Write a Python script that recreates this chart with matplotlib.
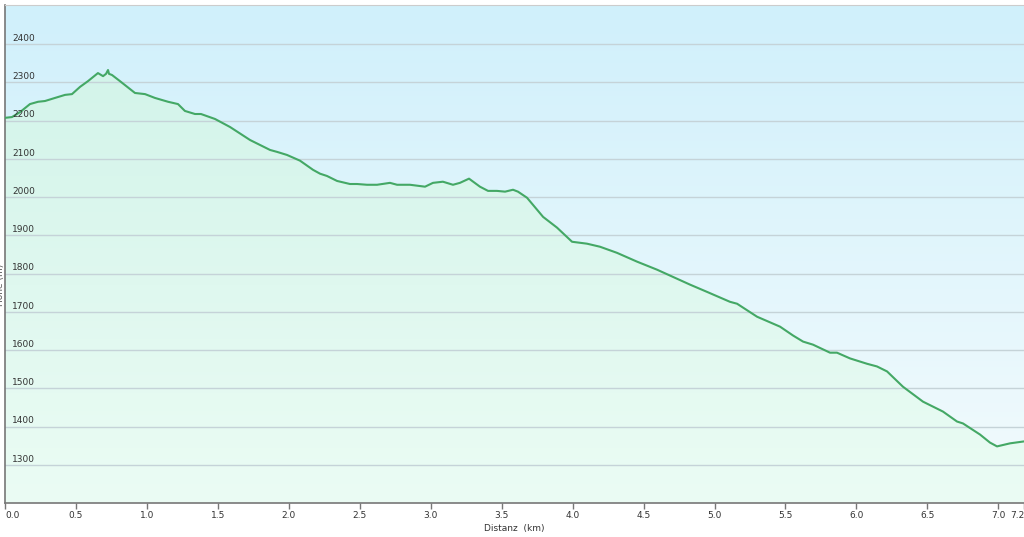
import numpy as np
import matplotlib.pyplot as plt
from matplotlib.colors import LinearSegmentedColormap
from matplotlib.patches import Polygon
import matplotlib.transforms as mtransforms

# profile
dist_km = [0.00, 0.049, 0.106, 0.176, 0.233, 0.282, 0.352, 0.423, 0.472, 0.529,
           0.585, 0.655, 0.691, 0.712, 0.726, 0.733, 0.754, 0.810, 0.916, 0.987,
           1.057, 1.149, 1.219, 1.268, 1.339, 1.381, 1.480, 1.586, 1.727, 1.868,
           1.917, 1.987, 2.079, 2.171, 2.220, 2.269, 2.340, 2.431, 2.481, 2.551,
           2.622, 2.713, 2.763, 2.854, 2.960, 3.016, 3.086, 3.157, 3.206, 3.270,
           3.347, 3.404, 3.467, 3.524, 3.580, 3.615, 3.679, 3.792, 3.890, 3.996,
           4.101, 4.193, 4.313, 4.454, 4.595, 4.827, 4.947, 5.109, 5.159, 5.300,
           5.462, 5.553, 5.624, 5.694, 5.814, 5.863, 5.955, 6.075, 6.145, 6.216,
           6.328, 6.469, 6.610, 6.709, 6.751, 6.871, 6.941, 6.991, 7.083, 7.181]
elev_m = [2207, 2209, 2222, 2243, 2249, 2251, 2259, 2267, 2269, 2288,
          2303, 2324, 2316, 2322, 2332, 2322, 2319, 2303, 2272, 2269,
          2259, 2249, 2243, 2225, 2217, 2217, 2204, 2183, 2149, 2123,
          2118, 2110, 2095, 2071, 2061, 2055, 2042, 2034, 2034, 2032,
          2032, 2037, 2032, 2032, 2027, 2037, 2040, 2032, 2037, 2048,
          2027, 2016, 2016, 2014, 2019, 2014, 1998, 1948, 1920, 1883,
          1878, 1870, 1854, 1831, 1810, 1771, 1752, 1726, 1721, 1687,
          1661, 1638, 1622, 1614, 1593, 1593, 1578, 1564, 1557, 1544,
          1504, 1465, 1439, 1413, 1408, 1379, 1358, 1348, 1356, 1361]

x_ticks = [0.0, 0.5, 1.0, 1.5, 2.0, 2.5, 3.0, 3.5, 4.0, 4.5, 5.0, 5.5, 6.0, 6.5, 7.0]
y_ticks = [1300, 1400, 1500, 1600, 1700, 1800, 1900, 2000, 2100, 2200, 2300, 2400]

xmax = 7.181
ymin, ymax = 1200, 2502

fig = plt.figure(figsize=(10.24, 5.37), dpi=100)
ax = fig.add_axes([5/1024, 34/537, 1 - 5/1024, 498/537])
ax.set_xlim(0, xmax)
ax.set_ylim(ymin, ymax)

# background gradient
bg = LinearSegmentedColormap.from_list("bg", ["#f3fbfd", "#d0f0fb"])
grad = np.linspace(0, 1, 256).reshape(-1, 1)
ax.imshow(grad, cmap=bg, origin="lower", aspect="auto",
          extent=[0, xmax, ymin, ymax], zorder=0)

# green gradient under the line
fg = LinearSegmentedColormap.from_list("fg", ["#ebfcf4", "#d3f4ea"])
im = ax.imshow(grad, cmap=fg, origin="lower", aspect="auto",
               extent=[0, xmax, ymin, 2340], zorder=1)
verts = [(0, ymin)] + list(zip(dist_km, elev_m)) + [(xmax, ymin)]
poly = Polygon(verts, closed=True, facecolor="none", edgecolor="none")
ax.add_patch(poly)
im.set_clip_path(poly)

for yt in y_ticks:
    ax.axhline(yt, color="#c5d3d8", lw=1, zorder=2)

ax.plot(dist_km, elev_m, color="#44a865", lw=1.5, zorder=3)

# y labels sit inside the plot, just above the grid line
trans = mtransforms.blended_transform_factory(ax.transAxes, ax.transData)
for yt in y_ticks:
    ax.text(7/1019, yt + 15, str(yt), transform=trans, fontsize=6.5,
            color="#333333", ha="left", va="center", zorder=4)

ax.set_yticks([])
ax.set_xticks(x_ticks + [xmax])
ax.set_xticklabels([f"{v:.1f}" for v in x_ticks] + ["7.2"], fontsize=6.5, color="#333333")
ax.tick_params(axis="x", direction="out", length=4, width=1, color="#777777", pad=2)
labels = ax.get_xticklabels()
labels[0].set_horizontalalignment("left")
labels[-1].set_horizontalalignment("right")
ax.set_xlabel("Distanz  (km)", fontsize=6.5, color="#333333", labelpad=3)

ax.spines["top"].set_color("#cccccc")
ax.spines["right"].set_visible(False)
ax.spines["left"].set_color("#777777")
ax.spines["bottom"].set_color("#777777")
ax.spines["left"].set_linewidth(1.2)
ax.spines["bottom"].set_linewidth(1.2)

# axis title, mostly cut off at the left edge as in the original
fig.text(0.0005, 0.47, "Höhe (m)", rotation=90, fontsize=6.5, color="#555555",
         ha="center", va="center")

fig.savefig("out.png", dpi=100)
